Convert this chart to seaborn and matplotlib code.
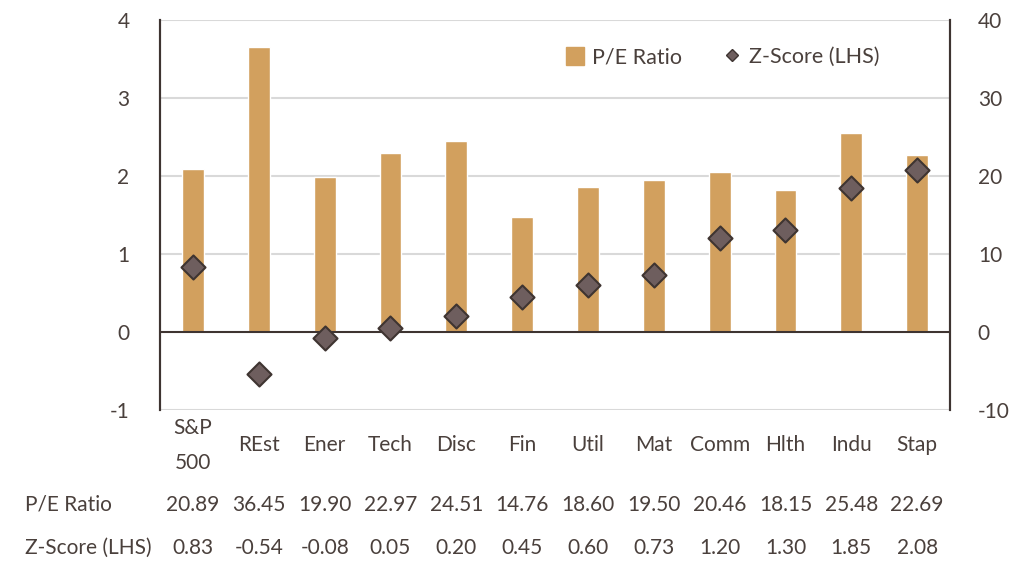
import matplotlib
matplotlib.use("Agg")
import matplotlib.pyplot as plt
import matplotlib.transforms as mtransforms
from matplotlib.patches import Patch
from matplotlib.lines import Line2D
import pandas as pd
import seaborn as sns

sectors = ["S&P\n500", "REst", "Ener", "Tech", "Disc", "Fin", "Util",
           "Mat", "Comm", "Hlth", "Indu", "Stap"]
pe_ratio = [20.89, 36.45, 19.90, 22.97, 24.51, 14.76, 18.60, 19.50,
            20.46, 18.15, 25.48, 22.69]
z_score = [0.83, -0.54, -0.08, 0.05, 0.20, 0.45, 0.60, 0.73,
           1.20, 1.30, 1.85, 2.08]
left_ticks = [-1, 0, 1, 2, 3, 4]
right_ticks = [-10, 0, 10, 20, 30, 40]

df = pd.DataFrame({"sector": sectors, "pe": pe_ratio, "z": z_score})

sns.set_theme(style="white")
plt.rcParams["font.family"] = ["Lato", "DejaVu Sans"]
plt.rcParams["axes.unicode_minus"] = False

bar_col = "#D2A05E"
txt_col = "#4A403C"
spine_col = "#3E3431"
grid_col = "#D9D9D9"

fig = plt.figure(figsize=(10.26, 5.64), dpi=100)
ax = fig.add_axes([0.156, 0.273, 0.77, 0.692])
ax2 = ax.twinx()

# bars on the right-hand scale, drawn behind the diamonds
sns.barplot(data=df, x="sector", y="pe", color=bar_col, width=0.33,
            saturation=1, ax=ax2, zorder=2)
ax2.set_ylim(-10, 40)
ax2.set_yticks(right_ticks)
for t in right_ticks:
    if t != 0:
        ax2.axhline(t, color=grid_col, lw=1.5, zorder=0)
ax2.axhline(0, color=spine_col, lw=1.5, zorder=3)

sns.scatterplot(data=df, x="sector", y="z", marker="D", s=150,
                color="#6E5E5E", edgecolor=spine_col, linewidth=1.5,
                ax=ax, zorder=4)
ax.set_ylim(-1, 4)
ax.set_yticks(left_ticks)
ax.set_xlim(-0.5, len(sectors) - 0.5)

ax.set_zorder(ax2.get_zorder() + 1)
ax.patch.set_visible(False)

for a in (ax, ax2):
    a.set_xlabel("")
    a.set_ylabel("")
    a.set_xticks([])
    for s in ("top", "bottom"):
        a.spines[s].set_visible(False)
    a.spines["left"].set_color(spine_col)
    a.spines["right"].set_color(spine_col)
    a.spines["left"].set_linewidth(1.5)
    a.spines["right"].set_linewidth(1.5)
    a.tick_params(axis="y", length=0, labelsize=15, labelcolor=txt_col, pad=20)

ax.tick_params(axis="y", pad=22)

# category labels and table rows under the plot
trans = mtransforms.blended_transform_factory(ax.transData, ax.transAxes)
for i, name in enumerate(sectors):
    ax.text(i, -0.09, name, transform=trans, ha="center", va="center",
            fontsize=15, color=txt_col, linespacing=1.95)
    ax.text(i, -0.243, f"{pe_ratio[i]:.2f}", transform=trans, ha="center",
            va="center", fontsize=15, color=txt_col)
    ax.text(i, -0.354, f"{z_score[i]:.2f}", transform=trans, ha="center",
            va="center", fontsize=15, color=txt_col)

row_y = [-0.243, -0.354]
row_names = ["P/E Ratio", "Z-Score (LHS)"]
ftrans = mtransforms.blended_transform_factory(fig.transFigure, ax.transAxes)
for y, name in zip(row_y, row_names):
    ax.text(0.024, y, name, transform=ftrans, ha="left", va="center",
            fontsize=15, color=txt_col)

handles = [Patch(color=bar_col, label="P/E Ratio"),
           Line2D([], [], marker="D", ls="none", markersize=6,
                  markerfacecolor="#6E5E5E", markeredgecolor=spine_col,
                  label="Z-Score (LHS)")]
leg = ax.legend(handles=handles, ncol=2, frameon=False, fontsize=15.5,
                loc="upper right", bbox_to_anchor=(0.935, 0.98),
                handlelength=0.8, handleheight=0.9, handletextpad=0.4,
                columnspacing=1.9)
for t in leg.get_texts():
    t.set_color(txt_col)

fig.savefig("out.png", dpi=100)
plt.close(fig)
